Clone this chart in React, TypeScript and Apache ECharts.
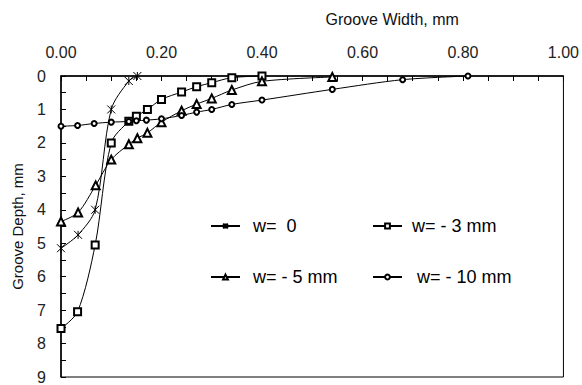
import React, { useEffect, useRef } from "react";
import * as echarts from "echarts";

// Groove width (mm) and groove depth (mm) for each series
const w0Width = [0.152, 0.135, 0.10, 0.068, 0.034, 0.0];
const w0Depth = [0.0, 0.15, 1.0, 4.0, 4.75, 5.15];

const w3Width = [0.40, 0.34, 0.30, 0.27, 0.24, 0.20, 0.172, 0.15, 0.135, 0.10, 0.068, 0.033, 0.0];
const w3Depth = [0.0, 0.05, 0.2, 0.32, 0.48, 0.70, 1.0, 1.2, 1.35, 2.0, 5.05, 7.05, 7.55];

const w5Width = [0.54, 0.40, 0.34, 0.30, 0.27, 0.24, 0.20, 0.172, 0.152, 0.135, 0.10, 0.069, 0.034, 0.0];
const w5Depth = [0.03, 0.16, 0.42, 0.67, 0.84, 1.04, 1.38, 1.70, 1.86, 2.04, 2.5, 3.27, 4.08, 4.35];

const w10Width = [0.81, 0.68, 0.54, 0.40, 0.34, 0.30, 0.27, 0.24, 0.20, 0.17, 0.15, 0.135, 0.10, 0.066, 0.033, 0.0];
const w10Depth = [0.0, 0.11, 0.40, 0.72, 0.85, 1.0, 1.08, 1.18, 1.28, 1.32, 1.34, 1.36, 1.38, 1.42, 1.48, 1.5];

const seriesNames = ["w=  0", "w= - 3 mm", "w= - 5 mm", "w= - 10 mm"];

const FONT = "Arial, 'Liberation Sans', sans-serif";
const ASTERISK = "path://M0,0L10,10M10,0L0,10M5,0L5,10";

function pairs(xs: number[], ys: number[]) {
  return xs.map((x, i) => [x, ys[i]]);
}

export default function App() {
  const ref = useRef<HTMLDivElement>(null);
  useEffect(() => {
    if (!ref.current) return;
    const chart = echarts.init(ref.current, undefined, { renderer: "svg" });
    const lineStyle = { color: "#000", width: 1 };
    const legendText = (pad: number) => ({
      fontFamily: FONT,
      fontSize: 18,
      color: "#000",
      padding: [0, 0, 0, pad],
    });
    const legendBase = {
      orient: "horizontal" as const,
      itemWidth: 29,
      itemHeight: 6,
      padding: 0,
      selectedMode: false,
    };
    chart.setOption({
      animation: false,
      backgroundColor: "#fff",
      grid: {
        left: 61,
        right: 18,
        top: 76,
        bottom: 4,
        show: true,
        borderColor: "#000",
        borderWidth: 1,
      },
      legend: [
        { ...legendBase, data: [seriesNames[0]], left: 210, top: 217, textStyle: legendText(8) },
        { ...legendBase, data: [seriesNames[1]], left: 372, top: 217, textStyle: legendText(5) },
        { ...legendBase, data: [seriesNames[2]], left: 210, top: 268, textStyle: legendText(8) },
        { ...legendBase, data: [seriesNames[3]], left: 372, top: 268, textStyle: legendText(10) },
      ],
      xAxis: {
        type: "value",
        position: "top",
        min: 0,
        max: 1,
        interval: 0.2,
        name: "Groove Width, mm",
        nameLocation: "middle",
        nameGap: 49,
        nameTextStyle: { fontFamily: FONT, fontSize: 16, color: "#111", padding: [0, 0, 0, 160] },
        axisLine: { show: true, lineStyle: { color: "#000", width: 1.5 } },
        axisTick: { show: true, inside: true, length: 5, lineStyle: { color: "#000" } },
        minorTick: { show: true, splitNumber: 4, length: 5, lineStyle: { color: "#000" } },
        axisLabel: {
          fontFamily: FONT,
          fontSize: 16,
          color: "#222",
          margin: 16,
          formatter: (v: number) => v.toFixed(2),
        },
        splitLine: { show: false },
      },
      yAxis: {
        type: "value",
        inverse: true,
        min: 0,
        max: 9,
        interval: 1,
        name: "Groove Depth, mm",
        nameLocation: "middle",
        nameGap: 36,
        nameRotate: 90,
        nameTextStyle: { fontFamily: FONT, fontSize: 15, color: "#111" },
        axisLine: { show: true, lineStyle: { color: "#000", width: 1.5 } },
        axisTick: { show: true, inside: true, length: 5, lineStyle: { color: "#000" } },
        minorTick: { show: true, splitNumber: 2, length: 5, lineStyle: { color: "#000" } },
        axisLabel: { fontFamily: FONT, fontSize: 16, color: "#222", margin: 15 },
        splitLine: { show: false },
      },
      series: [
        {
          name: seriesNames[0],
          type: "line",
          data: pairs(w0Width, w0Depth),
          smooth: 0.3,
          symbol: ASTERISK,
          symbolSize: 8,
          itemStyle: { color: "#000", borderColor: "#000", borderWidth: 1 },
          lineStyle,
        },
        {
          name: seriesNames[1],
          type: "line",
          data: pairs(w3Width, w3Depth),
          smooth: 0.3,
          symbol: "emptyRect",
          symbolSize: 7,
          itemStyle: { color: "#000" },
          lineStyle,
        },
        {
          name: seriesNames[2],
          type: "line",
          data: pairs(w5Width, w5Depth),
          smooth: 0.3,
          symbol: "emptyTriangle",
          symbolSize: 8,
          itemStyle: { color: "#000" },
          lineStyle,
        },
        {
          name: seriesNames[3],
          type: "line",
          data: pairs(w10Width, w10Depth),
          smooth: 0.3,
          symbol: "emptyCircle",
          symbolSize: 5,
          itemStyle: { color: "#000" },
          lineStyle,
        },
      ],
    });
    return () => chart.dispose();
  }, []);
  return (
    <div
      ref={ref}
      style={{ position: "fixed", left: 0, top: 0, width: 582, height: 385 }}
    />
  );
}
